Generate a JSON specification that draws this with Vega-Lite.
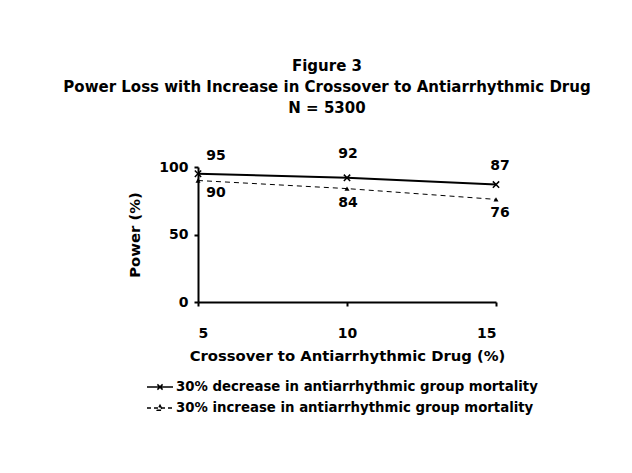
{
  "$schema": "https://vega.github.io/schema/vega-lite/v6.json",
  "autosize": "none",
  "width": 298,
  "height": 135,
  "padding": {"left": 198, "top": 167, "right": 136, "bottom": 171},
  "background": "white",
  "config": {
    "font": "DejaVu Sans",
    "view": {"stroke": null},
    "axis": {
      "grid": false,
      "domainColor": "black",
      "domainWidth": 2,
      "tickColor": "black",
      "tickWidth": 2,
      "tickSize": 4,
      "labelFont": "DejaVu Sans",
      "labelFontWeight": "bold",
      "labelFontSize": 14,
      "labelColor": "black",
      "titleFont": "DejaVu Sans",
      "titleFontWeight": "bold",
      "titleFontSize": 14.8,
      "titleColor": "black"
    }
  },
  "title": {
    "text": ["Figure 3", "Power Loss with Increase in Crossover to Antiarrhythmic Drug", "N = 5300"],
    "font": "DejaVu Sans",
    "fontSize": 15,
    "fontWeight": "bold",
    "color": "black",
    "lineHeight": 21,
    "anchor": "middle",
    "dx": -20,
    "offset": 31
  },
  "data": {
    "values": [
      {"crossover": 5, "power": 95, "series": "30% decrease in antiarrhythmic group mortality"},
      {"crossover": 10, "power": 92, "series": "30% decrease in antiarrhythmic group mortality"},
      {"crossover": 15, "power": 87, "series": "30% decrease in antiarrhythmic group mortality"},
      {"crossover": 5, "power": 90, "series": "30% increase in antiarrhythmic group mortality"},
      {"crossover": 10, "power": 84, "series": "30% increase in antiarrhythmic group mortality"},
      {"crossover": 15, "power": 76, "series": "30% increase in antiarrhythmic group mortality"}
    ]
  },
  "encoding": {
    "x": {
      "field": "crossover", "type": "quantitative",
      "scale": {"domain": [5, 15], "nice": false, "zero": false},
      "axis": {"values": [5, 10, 15], "labelPadding": 20, "title": "Crossover to Antiarrhythmic Drug (%)", "titlePadding": 8}
    },
    "y": {
      "field": "power", "type": "quantitative",
      "scale": {"domain": [0, 100], "nice": false},
      "axis": {"values": [0, 50, 100], "labelPadding": 6, "title": "Power (%)", "titlePadding": 16}
    }
  },
  "layer": [
    {
      "transform": [{"filter": "indexof(datum.series, 'decrease') >= 0"}],
      "mark": {"type": "line", "color": "black", "strokeWidth": 2}
    },
    {
      "transform": [{"filter": "indexof(datum.series, 'increase') >= 0"}],
      "mark": {"type": "line", "color": "black", "strokeWidth": 1, "strokeDash": [5, 4]}
    },
    {
      "transform": [{"filter": "indexof(datum.series, 'decrease') >= 0"}],
      "mark": {"type": "point", "shape": "M-1,-1L1,1M-1,1L1,-1", "size": 40, "color": "black", "strokeWidth": 1.5, "opacity": 1}
    },
    {
      "transform": [{"filter": "indexof(datum.series, 'increase') >= 0"}],
      "mark": {"type": "point", "shape": "triangle-up", "size": 25, "filled": true, "color": "black", "opacity": 1}
    },
    {
      "transform": [{"filter": "datum.power < 0"}],
      "mark": {"type": "point", "filled": false, "color": "black", "opacity": 1, "strokeWidth": 1.5},
      "encoding": {
        "shape": {
          "field": "series", "type": "nominal",
          "scale": {
            "domain": ["30% decrease in antiarrhythmic group mortality", "30% increase in antiarrhythmic group mortality"],
            "range": ["M-1,0L1,0M-0.2,-0.2L0.2,0.2M-0.2,0.2L0.2,-0.2", "M-1,0L1,0M0,-0.2L0.2,0.17L-0.2,0.17Z"]
          },
          "legend": {
            "title": null,
            "orient": "none",
            "legendX": -52,
            "legendY": 206,
            "direction": "vertical",
            "symbolSize": 676,
            "symbolStrokeColor": "black",
            "symbolFillColor": "black",
            "symbolStrokeWidth": 1.5,
            "labelFont": "DejaVu Sans",
            "labelFontWeight": "bold",
            "labelFontSize": 13.3,
            "labelColor": "black",
            "labelOffset": 2,
            "rowPadding": 0,
            "labelLimit": 500,
            "encode": {"symbols": {"update": {"stroke": {"value": "black"}, "fill": {"value": "black"}, "opacity": {"value": 1}, "strokeOpacity": {"value": 1}, "fillOpacity": {"value": 1}, "strokeWidth": {"value": 1.5}}}}
          }
        },
        "strokeDash": {
          "field": "series", "type": "nominal",
          "scale": {
            "domain": ["30% decrease in antiarrhythmic group mortality", "30% increase in antiarrhythmic group mortality"],
            "range": [[1, 0], [4, 3]]
          },
          "legend": {"title": null}
        }
      }
    },
    {
      "transform": [{"filter": "indexof(datum.series, 'decrease') >= 0 && datum.crossover == 5"}],
      "mark": {"type": "text", "dx": 18, "dy": -18, "fontSize": 14, "fontWeight": "bold", "color": "black", "baseline": "middle"},
      "encoding": {"text": {"field": "power", "type": "quantitative"}}
    },
    {
      "transform": [{"filter": "indexof(datum.series, 'decrease') >= 0 && datum.crossover == 10"}],
      "mark": {"type": "text", "dx": 1, "dy": -24, "fontSize": 14, "fontWeight": "bold", "color": "black", "baseline": "middle"},
      "encoding": {"text": {"field": "power", "type": "quantitative"}}
    },
    {
      "transform": [{"filter": "indexof(datum.series, 'decrease') >= 0 && datum.crossover == 15"}],
      "mark": {"type": "text", "dx": 4, "dy": -19, "fontSize": 14, "fontWeight": "bold", "color": "black", "baseline": "middle"},
      "encoding": {"text": {"field": "power", "type": "quantitative"}}
    },
    {
      "transform": [{"filter": "indexof(datum.series, 'increase') >= 0 && datum.crossover == 5"}],
      "mark": {"type": "text", "dx": 18, "dy": 12, "fontSize": 14, "fontWeight": "bold", "color": "black", "baseline": "middle"},
      "encoding": {"text": {"field": "power", "type": "quantitative"}}
    },
    {
      "transform": [{"filter": "indexof(datum.series, 'increase') >= 0 && datum.crossover == 10"}],
      "mark": {"type": "text", "dx": 1, "dy": 14, "fontSize": 14, "fontWeight": "bold", "color": "black", "baseline": "middle"},
      "encoding": {"text": {"field": "power", "type": "quantitative"}}
    },
    {
      "transform": [{"filter": "indexof(datum.series, 'increase') >= 0 && datum.crossover == 15"}],
      "mark": {"type": "text", "dx": 4, "dy": 14, "fontSize": 14, "fontWeight": "bold", "color": "black", "baseline": "middle"},
      "encoding": {"text": {"field": "power", "type": "quantitative"}}
    }
  ]
}
